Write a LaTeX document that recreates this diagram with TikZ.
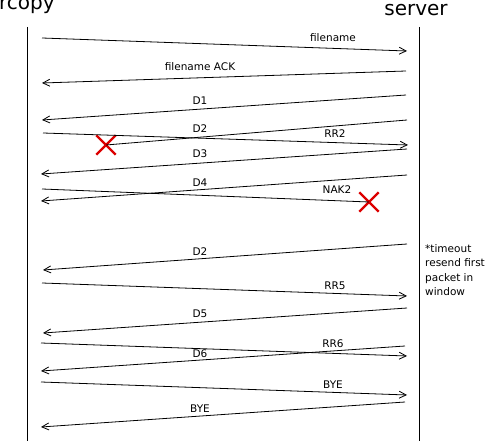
\documentclass[tikz,border=0pt]{standalone}
\usepackage{fontspec}
\setmainfont{DejaVu Sans}
\usetikzlibrary{arrows.meta,shapes.misc}
\definecolor{lostred}{RGB}{220,0,0}
\begin{document}
\begin{tikzpicture}[x=1pt,y=-1pt,
  lifeline/.style={line width=0.9pt},
  msg/.style={line width=0.8pt,-{Straight Barb[length=7pt,width=7pt]}},
  lost/.style={line width=0.8pt},
  lbl/.style={font=\fontsize{10.5}{12}\selectfont, inner sep=0pt},
  ttl/.style={font=\fontsize{20}{24}\selectfont, inner sep=0pt},
  xmark/.style={cross out, draw=lostred, line width=2.4pt, minimum size=17pt, inner sep=0pt}]
\useasboundingbox (0,0) rectangle (491,441);

% titles
\node[ttl, anchor=base west] (client) at (-1,10) {rcopy};
\node[ttl, anchor=base] (server) at (416,16) {server};

% lifelines
\coordinate (ct) at (27,27);
\coordinate (cb) at (27,441);
\coordinate (st) at (419,27);
\coordinate (sb) at (419,441);
\draw[lifeline] (ct) -- (cb);
\draw[lifeline] (st) -- (sb);

% message end points
\coordinate (c1) at (42,38);   \coordinate (s1) at (407,51);
\coordinate (s2) at (406,71);  \coordinate (c2) at (42,83);
\coordinate (s3) at (406,95);  \coordinate (c3) at (42,120);
\coordinate (s4) at (407,120);
\coordinate (c5) at (43,133);  \coordinate (s5) at (408,145);
\coordinate (s6) at (407,149); \coordinate (c6) at (41,174);
\coordinate (s7) at (407,175); \coordinate (c7) at (41,201);
\coordinate (c8) at (42,189);
\coordinate (s9) at (407,244); \coordinate (c9) at (43,270);
\coordinate (c10) at (42,283); \coordinate (s10) at (407,296);
\coordinate (s11) at (407,308);\coordinate (c11) at (43,333);
\coordinate (c12) at (41,343); \coordinate (s12) at (407,356);
\coordinate (s13) at (405,346);\coordinate (c13) at (41,371);
\coordinate (c14) at (41,382); \coordinate (s14) at (407,395);
\coordinate (s15) at (405,402);\coordinate (c15) at (41,427);

% lost packets
\node[xmark] (x1) at (106,145) {};
\node[xmark] (x2) at (369,202) {};

% messages
\draw[msg] (c1) -- (s1);
\draw[msg] (s2) -- (c2);
\draw[msg] (s3) -- (c3);
\draw[lost] (s4) -- (x1.center);
\draw[msg] (c5) -- (s5);
\draw[msg] (s6) -- (c6);
\draw[msg] (s7) -- (c7);
\draw[lost] (c8) -- (x2.center);
\draw[msg] (s9) -- (c9);
\draw[msg] (c10) -- (s10);
\draw[msg] (s11) -- (c11);
\draw[msg] (c12) -- (s12);
\draw[msg] (s13) -- (c13);
\draw[msg] (c14) -- (s14);
\draw[msg] (s15) -- (c15);

% labels
\node[lbl] (l1) at (333,38) {filename};
\node[lbl] (l2) at (200,66.5) {filename ACK};
\node[lbl] (l3) at (200,101) {D1};
\node[lbl] (l4) at (200,129) {D2};
\node[lbl] (l5) at (335,134) {RR2};
\node[lbl] (l6) at (200,154) {D3};
\node[lbl] (l7) at (200,183) {D4};
\node[lbl] (l8) at (337,190) {NAK2};
\node[lbl] (l9) at (200,252) {D2};
\node[lbl] (l10) at (335,286) {RR5};
\node[lbl] (l11) at (200,314) {D5};
\node[lbl] (l12) at (333,344) {RR6};
\node[lbl] (l13) at (200,354) {D6};
\node[lbl] (l14) at (333,385) {BYE};
\node[lbl] (l15) at (200,409) {BYE};

% note
\node[lbl, anchor=north west, align=left, font=\fontsize{10.5}{14.5}\selectfont] (note) at (425,244)
  {*timeout\\resend first\\packet in\\window};
\end{tikzpicture}
\end{document}
